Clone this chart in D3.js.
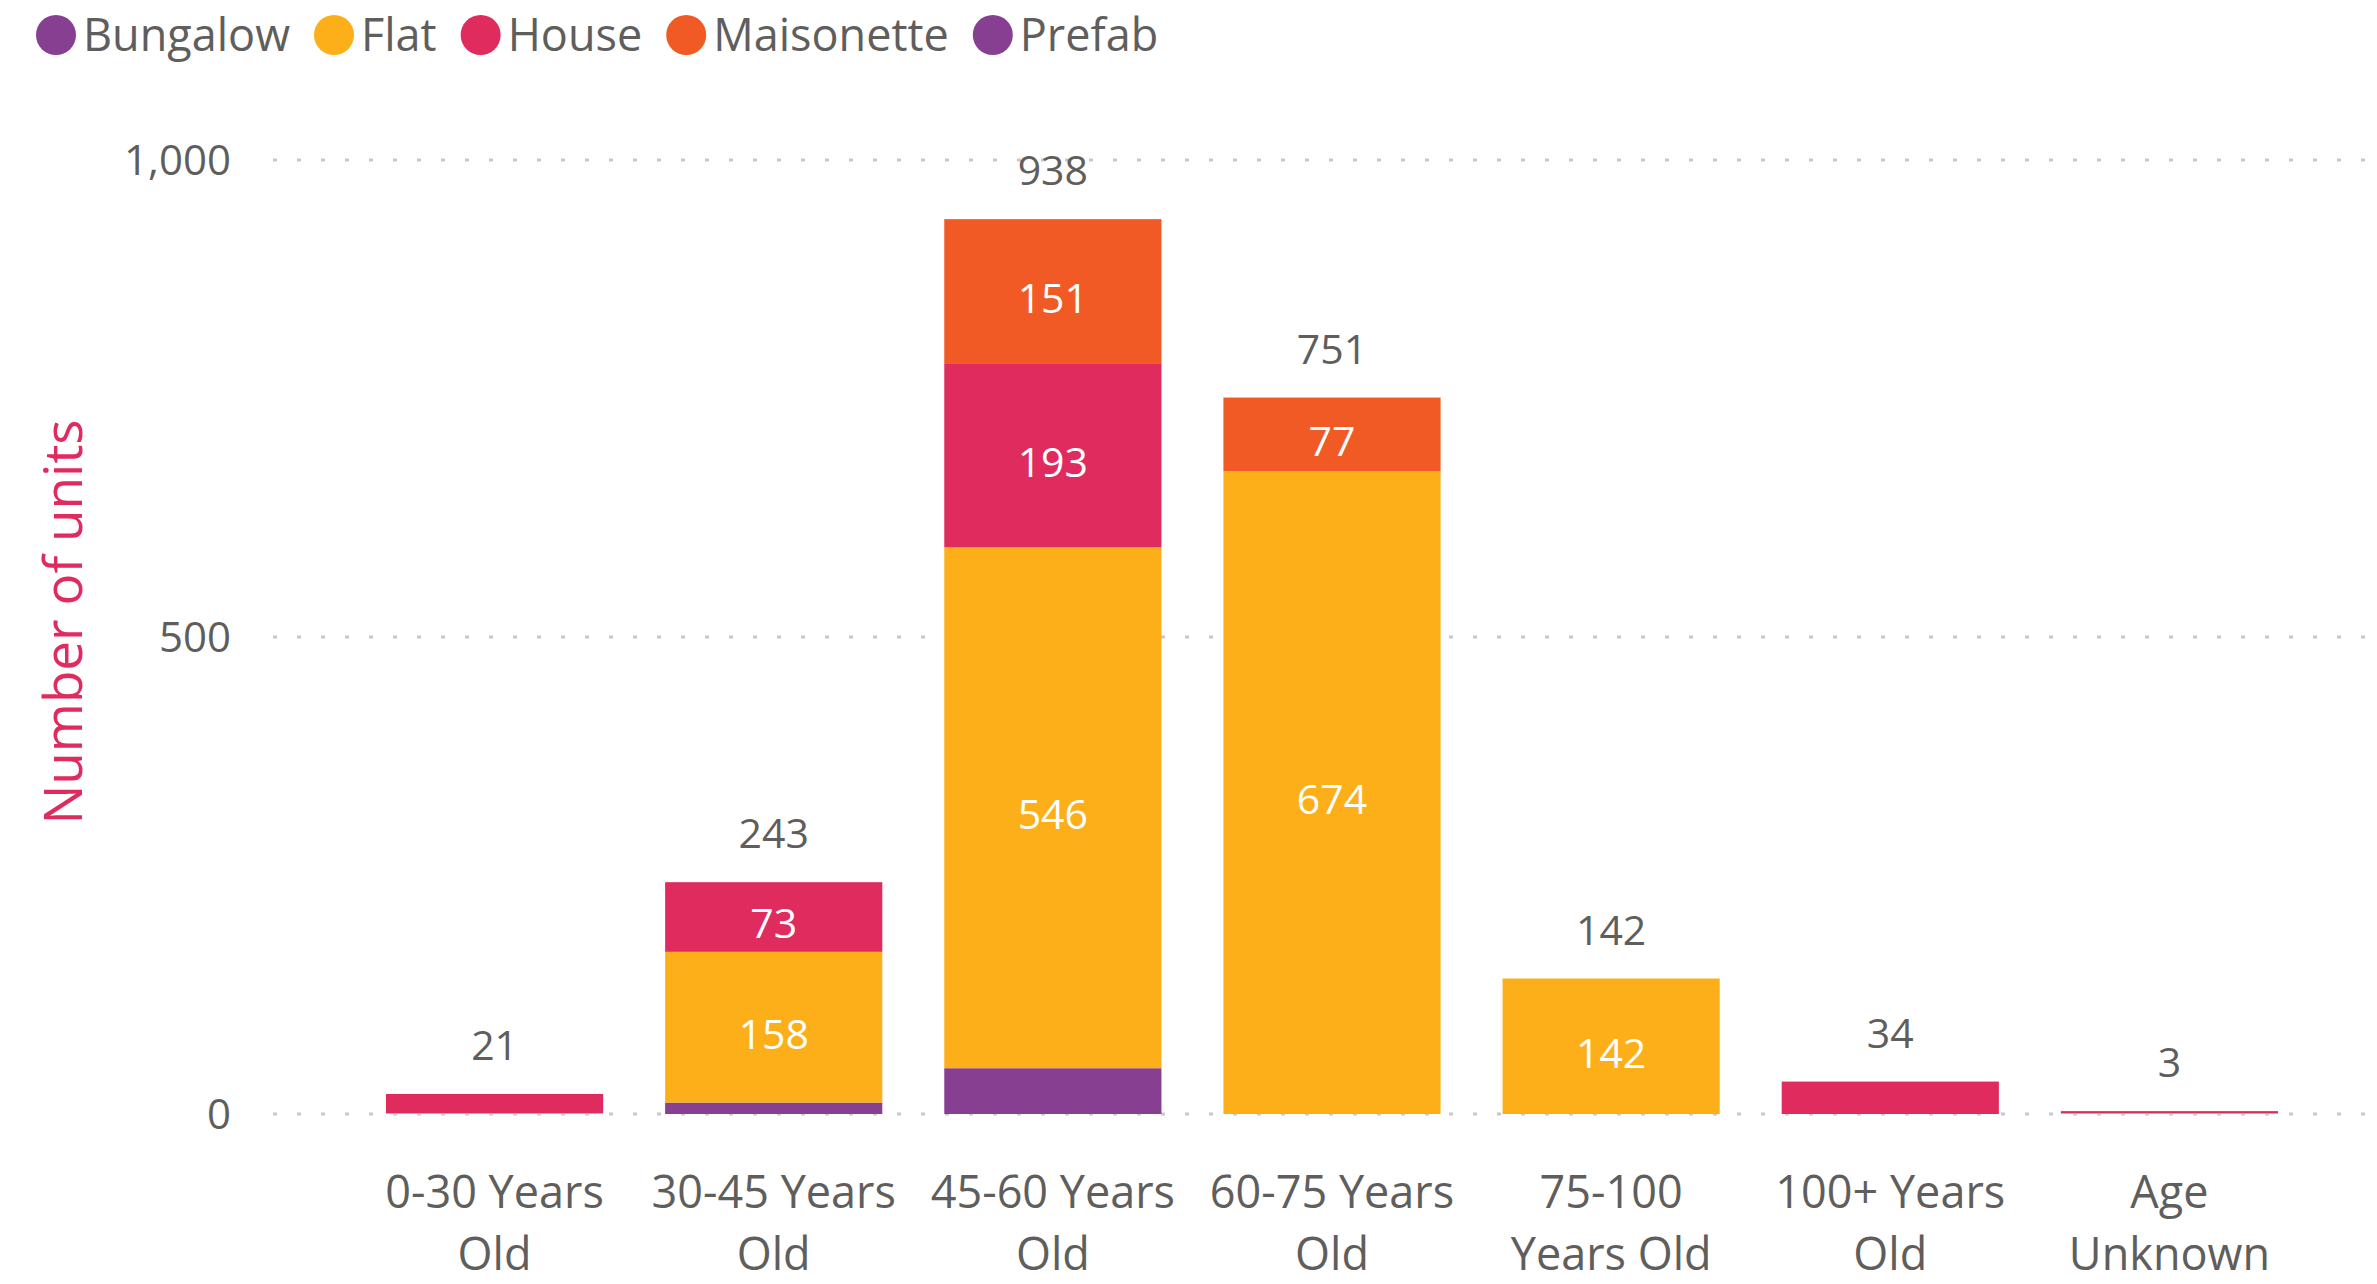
<!DOCTYPE html>
<html>
<head>
<meta charset="utf-8">
<script src="https://cdn.jsdelivr.net/npm/d3@7"></script>
<style>
  html, body { margin: 0; padding: 0; background: #ffffff; }
  svg { display: block; font-family: "Open Sans", "Noto Sans", sans-serif; }
</style>
</head>
<body>
<svg id="chart" width="2377" height="1284"></svg>
<script>
// Housing units by building age, stacked by property type
const categories = ["0-30 Years Old", "30-45 Years Old", "45-60 Years Old", "60-75 Years Old",
                    "75-100 Years Old", "100+ Years Old", "Age Unknown"];
const propertyTypes = ["Bungalow", "Flat", "House", "Maisonette", "Prefab"];
const bungalow   = [0, 12, 48, 0, 0, 0, 0];
const flat       = [1, 158, 546, 674, 142, 0, 1];
const house      = [20, 73, 193, 0, 0, 34, 2];
const maisonette = [0, 0, 151, 77, 0, 0, 0];
const prefab     = [0, 0, 0, 0, 0, 0, 0];
const yTicks     = [0, 500, 1000];
const typeColors = ["#873f91", "#fdaf1a", "#e02b5f", "#f15a24", "#873f91"];

const seriesByType = { Bungalow: bungalow, Flat: flat, House: house, Maisonette: maisonette, Prefab: prefab };
const rows = categories.map((c, i) => {
  const r = { category: c };
  propertyTypes.forEach(t => { r[t] = seriesByType[t][i]; });
  r.total = d3.sum(propertyTypes, t => r[t]);
  return r;
});

const svg = d3.select("#chart");
const textGrey = "#605e5c";

const x = d3.scaleBand().domain(categories).range([355, 2309]).paddingInner(0.222).paddingOuter(0.111);
const y = d3.scaleLinear().domain([0, 1000]).range([1114, 160]);
const color = d3.scaleOrdinal().domain(propertyTypes).range(typeColors);

// gridlines (dotted)
svg.append("g").selectAll("line").data(yTicks).join("line")
  .attr("x1", 273).attr("x2", 2377)
  .attr("y1", d => y(d)).attr("y2", d => y(d))
  .attr("stroke", "#c8c8c8").attr("stroke-width", 3).attr("stroke-dasharray", "4 20");

// y axis labels
const yAxis = d3.axisLeft(y).tickValues(yTicks).tickFormat(d3.format(",")).tickSize(0).tickPadding(0);
const yg = svg.append("g").attr("transform", "translate(231,0)").call(yAxis);
yg.select(".domain").remove();
yg.selectAll("text").attr("fill", textGrey).style("font-size", "42px")
  .style("font-family", "'Open Sans', sans-serif").attr("dy", "0.35em");

// axis title
svg.append("text")
  .attr("transform", "translate(82,622) rotate(-90)")
  .attr("text-anchor", "middle")
  .attr("fill", "#e02b5f").style("font-size", "53px")
  .text("Number of units");

// stacked bars
const stacked = d3.stack().keys(propertyTypes)(rows);
const layers = svg.append("g").selectAll("g").data(stacked).join("g")
  .attr("fill", d => color(d.key));
layers.selectAll("rect").data(d => d).join("rect")
  .attr("x", d => x(d.data.category))
  .attr("width", x.bandwidth())
  .attr("y", d => y(d[1]))
  .attr("height", d => y(d[0]) - y(d[1]));

// segment value labels
const segLabels = [];
stacked.forEach(layer => layer.forEach(d => {
  const v = d[1] - d[0];
  if (v >= 60) segLabels.push({ cat: d.data.category, v, mid: (d[0] + d[1]) / 2 });
}));
svg.append("g").selectAll("text").data(segLabels).join("text")
  .attr("x", d => x(d.cat) + x.bandwidth() / 2)
  .attr("y", d => y(d.mid) + 7)
  .attr("dy", "0.35em")
  .attr("text-anchor", "middle")
  .attr("fill", "#ffffff").style("font-size", "41px")
  .text(d => d.v);

// totals above bars
svg.append("g").selectAll("text").data(rows).join("text")
  .attr("x", d => x(d.category) + x.bandwidth() / 2)
  .attr("y", d => y(d.total) - 34)
  .attr("text-anchor", "middle")
  .attr("fill", textGrey).style("font-size", "41px")
  .text(d => d.total);

// category labels, wrapped to two lines
const xg = svg.append("g").attr("transform", "translate(0,1114)")
  .call(d3.axisBottom(x).tickSize(0).tickPadding(0));
xg.select(".domain").remove();
xg.selectAll("text").attr("fill", textGrey).style("font-size", "45px")
  .style("font-family", "'Open Sans', sans-serif")
  .each(function(d) {
    const t = d3.select(this);
    t.text(null);
    const words = d.split(" ");
    const lines = [];
    let cur = [];
    words.forEach(w => {
      const test = cur.concat(w).join(" ");
      t.text(test);
      if (cur.length && this.getComputedTextLength() > 258) {
        lines.push(cur.join(" "));
        cur = [w];
      } else {
        cur.push(w);
      }
    });
    lines.push(cur.join(" "));
    t.text(null).attr("y", 0).attr("dy", null);
    lines.forEach((ln, i) => {
      t.append("tspan").attr("x", 0).attr("y", 94 + i * 62).text(ln);
    });
  });

// legend
const legend = svg.append("g");
let lx = 56;
propertyTypes.forEach((t, i) => {
  legend.append("circle").attr("cx", lx).attr("cy", 35).attr("r", 20).attr("fill", color(t));
  const txt = legend.append("text").attr("x", lx + 27).attr("y", 35).attr("dy", "0.35em")
    .attr("fill", textGrey).style("font-size", "45px").text(t);
  lx = lx + 27 + txt.node().getComputedTextLength() + 44;
});
</script>
</body>
</html>
